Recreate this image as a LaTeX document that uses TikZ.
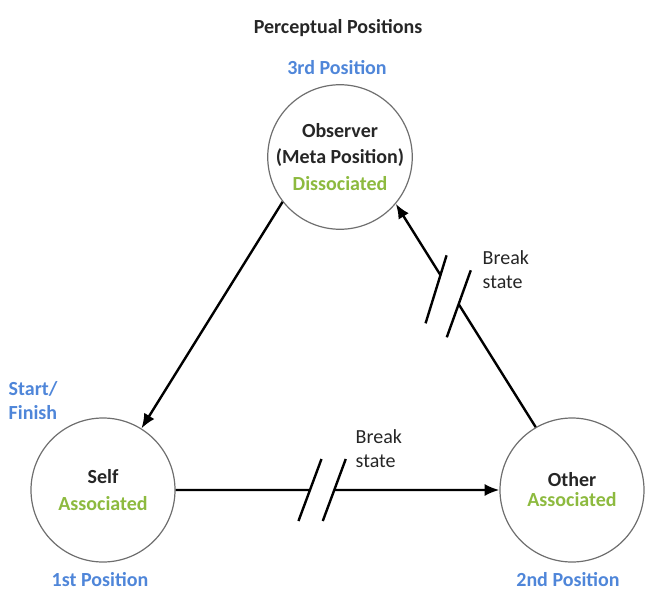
\documentclass[tikz,border=0pt]{standalone}
\usepackage{fontspec}
\setmainfont{Carlito}
\usetikzlibrary{arrows.meta,positioning,calc}
\definecolor{posblue}{HTML}{4F86D9}
\definecolor{assocgreen}{HTML}{8DBA3F}
\definecolor{ringgray}{HTML}{6E6E6E}
\definecolor{textdark}{HTML}{262626}

\begin{document}
\begin{tikzpicture}[x=0.75pt, y=-0.75pt,
  place/.style={circle, draw=ringgray, line width=0.9pt, minimum size=108pt,
                inner sep=0pt, align=center, text=textdark,
                font=\fontsize{15}{20}\selectfont\bfseries},
  poslabel/.style={font=\fontsize{15}{18}\selectfont\bfseries, text=posblue, align=left},
  note/.style={font=\fontsize{15}{18}\selectfont, text=textdark, align=left, anchor=west},
  arr/.style={-{Latex[length=11pt,width=9pt]}, line width=1.8pt},
  seg/.style={line width=1.8pt}
]
\useasboundingbox (0,0) rectangle (650,593);
\node[font=\fontsize{15}{18}\selectfont\bfseries, text=textdark] (title) at (338,28) {Perceptual Positions};
\node[place] (obs) at (340,157) {Observer\\(Meta Position)\\\textcolor{assocgreen}{Dissociated}};
\node[place] (self) at (103,490) {Self\\\textcolor{assocgreen}{Associated}};
\node[place] (other) at (572,490) {Other\\[-5pt]\textcolor{assocgreen}{Associated}};
\node[poslabel] (third) at (337,68) {3rd Position};
\node[poslabel] (first) at (100,580) {1st Position};
\node[poslabel] (second) at (568,580) {2nd Position};
\node[poslabel, anchor=west] (start) at (4,401) {Start/\\Finish};
\node[note] (brk1) at (478,270) {Break\\state};
\node[note] (brk2) at (351,449) {Break\\state};

% observer to self
\draw[arr] (obs.218) -- (self.58);

% self to other, broken
\coordinate (h1) at ($(self.east)!0.415!(other.west)$);
\coordinate (h2) at ($(self.east)!0.49!(other.west)$);
\draw[seg] (self.east) -- (h1);
\draw[arr] (h2) -- (other.west);
\draw[seg] ($(h1)+(11.5,-31)$) -- ($(h1)+(-11.5,31)$);
\draw[seg] ($(h2)+(11.5,-31)$) -- ($(h2)+(-11.5,31)$);

% other to observer, broken
\coordinate (r1) at ($(other.120)!0.55!(obs.-40)$);
\coordinate (r2) at ($(other.120)!0.68!(obs.-40)$);
\draw[seg] (other.120) -- (r1);
\draw[arr] (r2) -- (obs.-40);
\draw[seg] ($(r1)+(12,-34)$) -- ($(r1)+(-12,33)$);
\draw[seg] ($(r2)+(6,-20)$) -- ($(r2)+(-15,48)$);
\end{tikzpicture}
\end{document}
